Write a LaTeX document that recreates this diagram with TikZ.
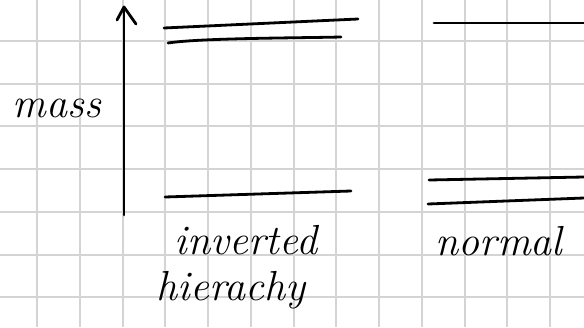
\documentclass[tikz,border=0pt]{standalone}
\begin{document}
\begin{tikzpicture}[x=1pt,y=-1pt,
  gridline/.style={draw=black!17,line width=2pt},
  level/.style={draw=black,line width=2.8pt,line cap=round},
  axisline/.style={draw=black,line width=2.8pt,line cap=round,line join=round},
  hand/.style={font=\itshape\fontsize{42}{44}\selectfont,inner sep=0pt,anchor=base}]
% page
\fill[white] (0,0) rectangle (584,327);
\useasboundingbox (0,0) rectangle (584,327);
% squared paper
\foreach \gx in {37,79.75,122.5,165.25,208,250.75,293.5,336.25,379,421.75,464.5,507.25,550}
  \draw[gridline] (\gx,0) -- (\gx,327);
\foreach \gy in {41,83.7,126.4,169.1,211.8,254.5,297.2}
  \draw[gridline] (0,\gy) -- (584,\gy);
% mass axis
\coordinate (axbot) at (124,215);
\coordinate (axtop) at (124,7);
\draw[axisline] (axbot) -- (axtop);
\draw[axisline] (117,20) -- (axtop) -- (136,24);
\node[hand] (mass) at (57,117) {mass};
% inverted hierarchy levels
\draw[level] (164,28) -- (358,19);
\draw[level] (168,43) .. controls (200,38) and (300,38) .. (341,37);
\draw[level] (165,197) -- (351,191);
\node[hand] (inv) at (246,254) {inverted};
\node[hand] (hier) at (231,300) {hierachy};
% normal hierarchy levels
\draw[level] (434,23) -- (584,23);
\draw[level] (429,180) -- (584,177);
\draw[level] (428,204) -- (584,198);
\node[hand] (norm) at (499,255) {normal};
\end{tikzpicture}
\end{document}
